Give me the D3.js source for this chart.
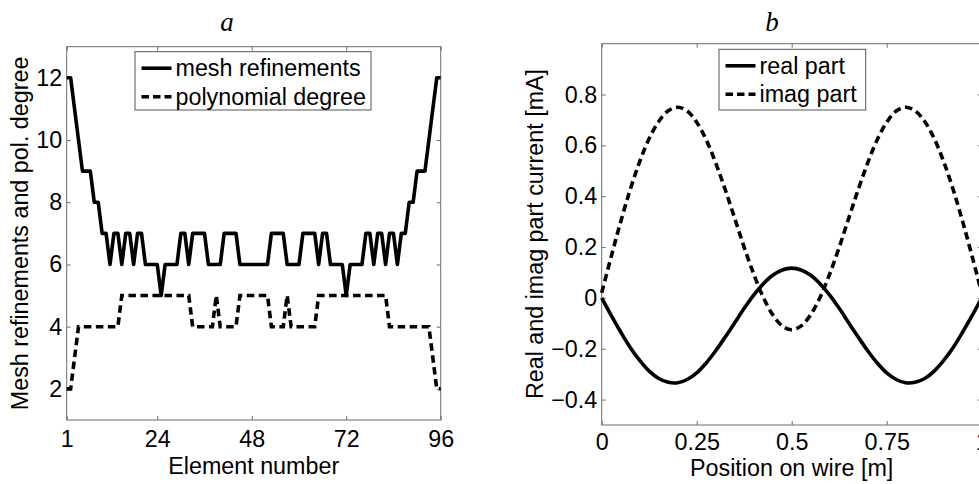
<!DOCTYPE html>
<html>
<head>
<meta charset="utf-8">
<script src="https://cdnjs.cloudflare.com/ajax/libs/d3/7.8.5/d3.min.js"></script>
<style>
  body { margin: 0; background: #fff; }
  text { font-family: "Liberation Sans", Arial, sans-serif; fill: #000; }
</style>
</head>
<body>
<div id="chart"></div>
<script>
var w = 979;
var h = 484;

// Panel a: one value per element (1..96)
var meshRef = [12,12,11,10,9,9,9,8,8,7,7,6,7,7,6,7,7,6,7,7,6,6,6,6,5,6,6,6,6,7,7,6,7,7,7,7,6,6,6,6,7,7,7,7,6,6,6,6,
               6,6,6,6,7,7,7,7,6,6,6,6,7,7,7,7,6,7,7,6,6,6,6,5,6,6,6,6,7,7,6,7,7,6,7,7,6,7,7,8,8,9,9,9,10,11,12,12];
var polyDeg = [2,2,3,4,4,4,4,4,4,4,4,4,4,4,5,5,5,5,5,5,5,5,5,5,5,5,5,5,5,5,5,5,4,4,4,4,4,4,5,4,4,4,4,4,5,5,5,5,
               5,5,5,5,4,4,4,4,5,4,4,4,4,4,4,4,5,5,5,5,5,5,5,5,5,5,5,5,5,5,5,5,5,5,4,4,4,4,4,4,4,4,4,4,4,3,2,2];
var aTicksX = [1, 24, 48, 72, 96];
var aTicksY = [2, 4, 6, 8, 10, 12];

// Panel b: current along the wire
var wirePos = [0,0.025,0.05,0.075,0.1,0.125,0.15,0.175,0.2,0.225,0.25,0.275,0.3,0.325,0.35,0.375,0.4,0.425,0.45,0.475,
               0.5,0.525,0.55,0.575,0.6,0.625,0.65,0.675,0.7,0.725,0.75,0.775,0.8,0.825,0.85,0.875,0.9,0.925,0.95,0.975,1];
var realPart = [0,-0.069,-0.134,-0.195,-0.246,-0.288,-0.317,-0.332,-0.334,-0.321,-0.295,-0.256,-0.208,-0.154,-0.098,-0.041,0.011,0.055,0.089,0.110,
                0.117,0.110,0.089,0.055,0.011,-0.041,-0.098,-0.154,-0.208,-0.256,-0.295,-0.321,-0.334,-0.332,-0.317,-0.288,-0.246,-0.195,-0.134,-0.069,0];
var imagPart = [0.02,0.162,0.30,0.426,0.536,0.627,0.694,0.736,0.75,0.735,0.691,0.622,0.531,0.426,0.313,0.199,0.094,0.003,-0.066,-0.110,
                -0.125,-0.110,-0.066,0.003,0.094,0.199,0.313,0.426,0.531,0.622,0.691,0.735,0.75,0.736,0.694,0.627,0.536,0.426,0.30,0.162,0.02];
var bTicksX = [0, 0.25, 0.5, 0.75, 1];
var bTicksY = [-0.4, -0.2, 0, 0.2, 0.4, 0.6, 0.8];

var fs = "23.3px";
var lw = 3.6;
var axisColor = "#6e6e6e";

var svg = d3.select("#chart")
  .append("svg")
  .attr("width", w)
  .attr("height", h);

// box axes with inward ticks on all four sides
function drawBox(x, y, xt, yt, xfmt, yfmt, padX) {
  var g = svg.append("g");
  var x0 = x.range()[0], x1 = x.range()[1];
  var y0 = y.range()[1], y1 = y.range()[0];

  g.append("g").attr("transform", "translate(0," + y1 + ")")
    .call(d3.axisBottom(x).tickValues(xt).tickSizeInner(-4).tickSizeOuter(0).tickPadding(padX).tickFormat(xfmt));
  g.append("g").attr("transform", "translate(0," + y0 + ")")
    .call(d3.axisTop(x).tickValues(xt).tickSizeInner(-4).tickSizeOuter(0).tickFormat(""));
  g.append("g").attr("transform", "translate(" + x0 + ",0)")
    .call(d3.axisLeft(y).tickValues(yt).tickSizeInner(-4).tickSizeOuter(0).tickPadding(4.5).tickFormat(yfmt));
  g.append("g").attr("transform", "translate(" + x1 + ",0)")
    .call(d3.axisRight(y).tickValues(yt).tickSizeInner(-4).tickSizeOuter(0).tickFormat(""));

  g.selectAll(".domain").remove();
  g.selectAll(".tick line").attr("stroke", axisColor);
  g.selectAll(".tick text").style("font-size", fs).attr("fill", "#000");

  g.append("rect")
    .attr("x", x0).attr("y", y0)
    .attr("width", x1 - x0).attr("height", y1 - y0)
    .attr("fill", "none").attr("stroke", axisColor).attr("stroke-width", 1);
  return g;
}

function drawLegend(lx, ly, lwid, lh, items) {
  var lg = svg.append("g").attr("transform", "translate(" + lx + "," + ly + ")");
  lg.append("rect").attr("width", lwid).attr("height", lh)
    .attr("fill", "#fff").attr("stroke", "#555").attr("stroke-width", 1);
  items.forEach(function (it, i) {
    var cy = 16.5 + i * 28.5;
    lg.append("line").attr("x1", 6.5).attr("x2", 36.5).attr("y1", cy).attr("y2", cy)
      .attr("stroke", "#000").attr("stroke-width", lw)
      .attr("stroke-dasharray", it.dash ? "7.5,4" : null);
    lg.append("text").attr("x", 40.5).attr("y", cy).attr("dy", "0.35em")
      .style("font-size", fs).text(it.label);
  });
}

// ---------- Panel a ----------
var xa = d3.scaleLinear().domain([1, 96]).range([66.7, 440.7]);
var ya = d3.scaleLinear().domain([1, 13]).range([420, 46.7]);

drawBox(xa, ya, aTicksX, aTicksY, d3.format("d"), d3.format("d"), 10);

var lineA = d3.line()
  .x(function (d, i) { return xa(i + 1); })
  .y(function (d) { return ya(d); });

svg.append("path").datum(polyDeg)
  .attr("d", lineA).attr("fill", "none")
  .attr("stroke", "#000").attr("stroke-width", lw)
  .attr("stroke-dasharray", "7.5,4.5");

svg.append("path").datum(meshRef)
  .attr("d", lineA).attr("fill", "none")
  .attr("stroke", "#000").attr("stroke-width", lw)
  .attr("stroke-linejoin", "round");

drawLegend(135, 51.7, 236, 58.3, [
  { label: "mesh refinements", dash: false },
  { label: "polynomial degree", dash: true }
]);

svg.append("text").attr("x", 227).attr("y", 31)
  .attr("text-anchor", "middle")
  .style("font-family", "'Liberation Serif', serif").style("font-style", "italic").style("font-size", "27px")
  .text("a");

svg.append("text").attr("x", 253.7).attr("y", 474)
  .attr("text-anchor", "middle").style("font-size", fs)
  .text("Element number");

svg.append("text")
  .attr("transform", "translate(28.3,233.4) rotate(-90)")
  .attr("text-anchor", "middle").style("font-size", fs)
  .text("Mesh refinements and pol. degree");

// ---------- Panel b ----------
var xb = d3.scaleLinear().domain([0, 1]).range([601.7, 981.7]);
var yb = d3.scaleLinear().domain([-0.5, 1]).range([425, 43.7]);

function numFmt(v) {
  var s = d3.format("")(+v.toFixed(2));
  return s.replace("-", "\u2212");
}

drawBox(xb, yb, bTicksX, bTicksY, numFmt, numFmt, 8);

var lineB = d3.line()
  .curve(d3.curveCatmullRom)
  .x(function (d, i) { return xb(wirePos[i]); })
  .y(function (d) { return yb(d); });

svg.append("path").datum(imagPart)
  .attr("d", lineB).attr("fill", "none")
  .attr("stroke", "#000").attr("stroke-width", lw)
  .attr("stroke-dasharray", "7.5,4.5");

svg.append("path").datum(realPart)
  .attr("d", lineB).attr("fill", "none")
  .attr("stroke", "#000").attr("stroke-width", lw);

drawLegend(719, 49.3, 146.7, 60.7, [
  { label: "real part", dash: false },
  { label: "imag part", dash: true }
]);

svg.append("text").attr("x", 772).attr("y", 31)
  .attr("text-anchor", "middle")
  .style("font-family", "'Liberation Serif', serif").style("font-style", "italic").style("font-size", "27px")
  .text("b");

svg.append("text").attr("x", 791.7).attr("y", 476)
  .attr("text-anchor", "middle").style("font-size", fs)
  .text("Position on wire [m]");

svg.append("text")
  .attr("transform", "translate(543.4,234) rotate(-90)")
  .attr("text-anchor", "middle").style("font-size", fs)
  .text("Real and imag part current [mA]");
</script>
</body>
</html>
